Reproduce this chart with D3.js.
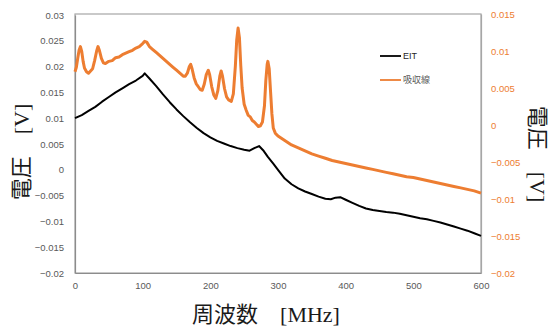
<!DOCTYPE html>
<html lang="ja">
<head>
<meta charset="UTF-8">
<script src="https://d3js.org/d3.v7.min.js"></script>
<style>
  body { margin: 0; background: #fff; }
  text { font-family: "Liberation Sans", Arial, sans-serif; }
  .title { font-family: "Liberation Serif", "Noto Sans CJK JP", serif; }
</style>
</head>
<body>
<svg id="chart" width="549" height="329"></svg>
<script>
// 周波数 [MHz] ごとの値 (読み取り値)
const eitFreq = [0,10,20,30,40,50,60,70,80,90,100,103,110,120,130,140,150,160,170,180,190,200,210,220,230,240,250,258,265,272,278,285,293,300,310,320,330,340,350,360,370,378,385,392,400,410,420,430,440,450,460,470,480,490,500,510,520,530,540,550,560,570,580,590,600];
const eitVolt = [0.0100,0.0106,0.0114,0.0122,0.0132,0.0141,0.0150,0.0158,0.0166,0.0173,0.0182,0.0187,0.0177,0.0162,0.0146,0.0131,0.0117,0.0104,0.0092,0.0081,0.0071,0.0063,0.0056,0.0051,0.0046,0.0042,0.0039,0.0037,0.0042,0.0046,0.0038,0.0025,0.0012,0.0000,-0.0017,-0.0028,-0.0036,-0.0042,-0.0047,-0.0052,-0.0056,-0.0057,-0.0054,-0.0053,-0.0058,-0.0064,-0.0070,-0.0075,-0.0078,-0.0080,-0.0082,-0.0083,-0.0085,-0.0088,-0.0091,-0.0094,-0.0096,-0.0099,-0.0102,-0.0106,-0.0110,-0.0114,-0.0118,-0.0123,-0.0128];

const absFreq = [0,2,4,6,8,10,12,14,17,20,23,26,29,32,34,36,39,42,45,50,55,60,65,70,75,80,85,90,95,100,103,106,110,115,120,125,130,135,140,145,150,155,160,163,166,169,171,173,176,179,182,185,188,191,194,197,199,202,205,208,211,214,216,218,221,224,227,231,234,237,239,241,243,245,247,250,253,256,259,262,265,268,271,274,277,280,282,284,285,287,289,291,293,296,300,310,320,330,340,350,360,370,380,390,400,410,420,430,440,450,460,470,480,490,500,510,520,530,540,550,560,570,580,590,600];
const absVolt = [0.0072,0.0078,0.0090,0.0101,0.0106,0.0099,0.0086,0.0077,0.0072,0.0070,0.0073,0.0076,0.0087,0.0100,0.0106,0.0101,0.0090,0.0084,0.0083,0.0086,0.0087,0.0091,0.0092,0.0095,0.0097,0.0099,0.0101,0.0104,0.0106,0.0110,0.0113,0.0112,0.0106,0.0102,0.0098,0.0094,0.0090,0.0086,0.0082,0.0078,0.0074,0.0070,0.0066,0.0066,0.0070,0.0079,0.0082,0.0076,0.0064,0.0056,0.0052,0.0048,0.0047,0.0055,0.0068,0.0074,0.0068,0.0052,0.0041,0.0036,0.0046,0.0066,0.0073,0.0066,0.0049,0.0038,0.0034,0.0032,0.0042,0.0080,0.0115,0.0131,0.0118,0.0080,0.0050,0.0028,0.0020,0.0013,0.0011,0.0006,0.0004,0.0001,-0.0002,-0.0001,0.0004,0.0026,0.0060,0.0082,0.0086,0.0076,0.0045,0.0015,-0.0004,-0.0011,-0.0015,-0.0021,-0.0027,-0.0031,-0.0035,-0.0039,-0.0042,-0.0045,-0.0048,-0.0050,-0.0052,-0.0054,-0.0056,-0.0058,-0.0060,-0.0062,-0.0064,-0.0066,-0.0068,-0.0070,-0.0071,-0.0073,-0.0075,-0.0077,-0.0079,-0.0081,-0.0083,-0.0085,-0.0087,-0.0089,-0.0092];

const xTicks = [0,100,200,300,400,500,600];
const leftTicks = [-0.02,-0.015,-0.01,-0.005,0,0.005,0.01,0.015,0.02,0.025,0.03];
const rightTicks = [-0.02,-0.015,-0.01,-0.005,0,0.005,0.01,0.015];

const seriesNames = ["EIT", "吸収線"];
const seriesColors = ["#000000", "#ED7D31"];

const svg = d3.select("#chart");
const margin = { left: 75, right: 68, top: 14, bottom: 56 };
const W = 549, H = 329;

const x = d3.scaleLinear().domain([0, 600]).range([margin.left, W - margin.right]);
const yL = d3.scaleLinear().domain([-0.02, 0.03]).range([H - margin.bottom, margin.top + 1]);
const yR = d3.scaleLinear().domain([-0.02, 0.015]).range([H - margin.bottom, margin.top]);

// 枠
svg.append("rect")
  .attr("x", margin.left).attr("y", margin.top)
  .attr("width", W - margin.left - margin.right)
  .attr("height", H - margin.top - margin.bottom)
  .attr("fill", "none").attr("stroke", "#a6a6a6").attr("stroke-width", 1.2);

// 軸
const gx = svg.append("g")
  .attr("transform", `translate(0,${H - margin.bottom})`)
  .call(d3.axisBottom(x).tickValues(xTicks).tickSize(0).tickPadding(9).tickFormat(d3.format("d")));
gx.select(".domain").attr("stroke", "#8c8c8c").attr("stroke-width", 1.2);
gx.selectAll("text").attr("fill", "#595959").style("font-size", "9.5px");

const gl = svg.append("g")
  .attr("transform", `translate(${margin.left},0)`)
  .call(d3.axisLeft(yL).tickValues(leftTicks).tickSize(0).tickPadding(11).tickFormat(d => d3.format("")(+d.toFixed(3))));
gl.select(".domain").attr("stroke", "#8c8c8c").attr("stroke-width", 1.2);
gl.selectAll("text").attr("fill", "#595959").style("font-size", "9.5px");

const gr = svg.append("g")
  .attr("transform", `translate(${W - margin.right},0)`)
  .call(d3.axisRight(yR).tickValues(rightTicks).tickSize(0).tickPadding(10).tickFormat(d => d3.format("")(+d.toFixed(3))));
gr.select(".domain").attr("stroke", "#a6a6a6").attr("stroke-width", 1.2);
gr.selectAll("text").attr("fill", "#ED7D31").style("font-size", "9.5px");

// 線
const eitData = eitFreq.map((f, i) => [f, eitVolt[i]]);
const absData = absFreq.map((f, i) => [f, absVolt[i]]);

svg.append("path")
  .datum(absData)
  .attr("fill", "none").attr("stroke", seriesColors[1]).attr("stroke-width", 3)
  .attr("stroke-linejoin", "round")
  .attr("d", d3.line().x(d => x(d[0])).y(d => yR(d[1])));

svg.append("path")
  .datum(eitData)
  .attr("fill", "none").attr("stroke", seriesColors[0]).attr("stroke-width", 2)
  .attr("stroke-linejoin", "round")
  .attr("d", d3.line().x(d => x(d[0])).y(d => yL(d[1])));

// 凡例
const legend = svg.append("g").attr("transform", "translate(380,56)");
seriesNames.forEach((name, i) => {
  const g = legend.append("g").attr("transform", `translate(0,${i * 24})`);
  g.append("line").attr("x1", 0).attr("x2", 21).attr("stroke", seriesColors[i]).attr("stroke-width", 1.8);
  g.append("text").attr("x", 23).attr("dy", "0.35em")
    .attr("fill", i === 0 ? "#262626" : "#595959")
    .style("font-size", "9px")
    .style("font-family", i === 0 ? null : "'Noto Sans CJK JP', sans-serif")
    .text(name);
});

// 軸タイトル
svg.append("text").attr("class", "title")
  .attr("x", 266).attr("y", 322)
  .attr("text-anchor", "middle")
  .style("font-size", "22px").attr("fill", "#1a1a1a")
  .text("周波数　[MHz]");

svg.append("text").attr("class", "title")
  .attr("transform", "translate(21,152) rotate(-90)")
  .attr("text-anchor", "middle").attr("dominant-baseline", "central")
  .style("font-size", "22px").attr("fill", "#1a1a1a")
  .text("電圧　[V]");

svg.append("text").attr("class", "title")
  .attr("transform", "translate(537,154) rotate(90)")
  .attr("text-anchor", "middle").attr("dominant-baseline", "central")
  .style("font-size", "22px").attr("fill", "#1a1a1a")
  .text("電圧　[V]");
</script>
</body>
</html>
